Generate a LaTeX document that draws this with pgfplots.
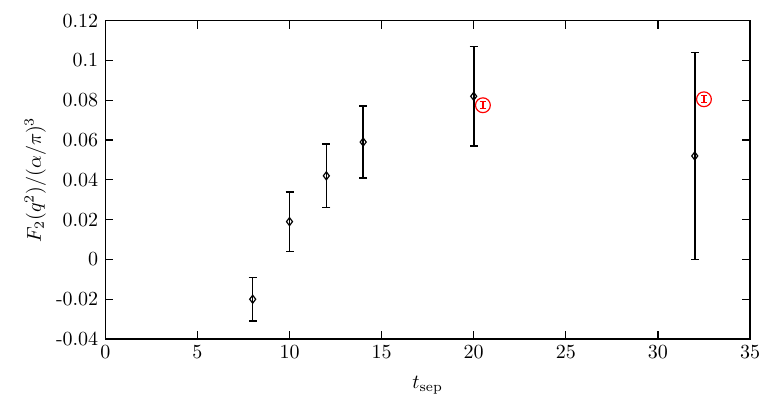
\documentclass[border=0pt]{standalone}
\usepackage{pgfplots}
\pgfplotsset{compat=1.18}
\begin{document}
\begin{tikzpicture}
\begin{axis}[
  scale only axis,
  width=322.35pt, height=159.15pt,
  xmin=0, xmax=35, ymin=-0.04, ymax=0.12,
  xtick={0,5,...,35},
  ytick={-0.04,-0.02,0,0.02,0.04,0.06,0.08,0.1,0.12},
  yticklabels={-0.04,-0.02,0,0.02,0.04,0.06,0.08,0.1,0.12},
  scaled y ticks=false,
  tick align=inside,
  major tick length=4pt,
  axis line style={line width=0.75pt},
  tick style={line width=0.65pt, black},
  xlabel={$t_{\mathrm{sep}}$},
  ylabel={$F_2(q^2)/(\alpha/\pi)^3$},
  xlabel style={at={(axis description cs:0.5,-0.1445)}, anchor=center},
  ylabel style={at={(axis description cs:-0.1086,0.5)}, anchor=center},
]
\coordinate (bl) at (rel axis cs:0,0);
\coordinate (tr) at (rel axis cs:1,1);
\addplot[black, line width=0.7pt, only marks, mark=diamond, mark size=2pt,
  mark options={line width=0.6pt, fill=white},
  error bars/.cd, y dir=both, y explicit,
  error bar style={line width=0.8pt, black},
  error mark options={rotate=90, mark size=2pt, line width=0.8pt, black}]
coordinates {
 (8,-0.020) += (0,0.011) -= (0,0.011)
 (10,0.019) += (0,0.015) -= (0,0.015)
 (12,0.042) += (0,0.016) -= (0,0.016)
 (14,0.059) += (0,0.018) -= (0,0.018)
 (20,0.082) += (0,0.025) -= (0,0.025)
 (32,0.052) += (0,0.052) -= (0,0.052)
};
\addplot[red, line width=0.6pt, only marks, mark=o, mark size=3.7pt,
  mark options={line width=0.6pt},
  error bars/.cd, y dir=both, y explicit,
  error bar style={line width=0.6pt, red},
  error mark options={rotate=90, mark size=1.6pt, line width=0.6pt, red}]
coordinates {
 (20.5,0.0775) +- (0,0.0018)
 (32.5,0.0805) +- (0,0.0018)
};
\end{axis}
\pgfresetboundingbox
\path ([xshift=-52.65pt, yshift=-35pt]bl) rectangle ([xshift=16.5pt, yshift=10.35pt]tr);
\end{tikzpicture}
\end{document}
